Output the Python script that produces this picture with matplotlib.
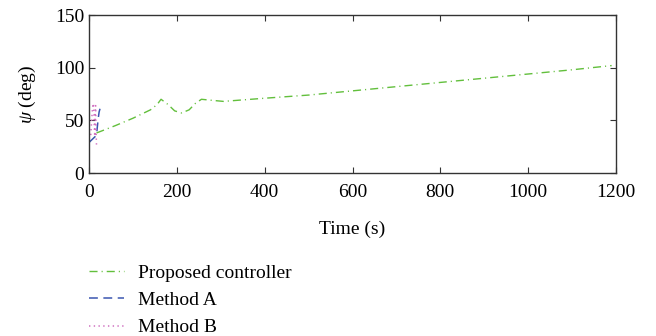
import matplotlib
matplotlib.use("Agg")
import matplotlib.pyplot as plt

plt.rcParams['font.family'] = ['Liberation Serif', 'DejaVu Serif']
plt.rcParams['mathtext.fontset'] = 'custom'
plt.rcParams['mathtext.it'] = 'Liberation Serif:italic'
plt.rcParams['mathtext.rm'] = 'Liberation Serif'

t_prop = [17, 60, 100, 140, 155, 164, 180, 195, 211, 228, 242, 256, 280, 306, 400, 500, 600, 700, 800, 900, 1000, 1100, 1190]
psi_prop = [38, 45, 52, 60, 65, 70, 65, 59, 57, 60, 66, 70, 69, 68, 71, 74, 78, 82, 86, 90, 94, 98, 102]

t_a = [0, 5, 10, 15, 17, 19, 21, 23, 25]
psi_a = [29, 31, 33, 35, 36, 44, 52, 58, 61]

t_b = [4, 6, 8, 10, 11, 12, 13, 14, 15, 16, 17]
psi_b = [36, 50, 62, 66, 58, 45, 35, 55, 64, 40, 27]

fig = plt.figure(figsize=(6.56, 3.36), dpi=100)
ax = fig.add_axes([0.1357, 0.4851, 0.8034, 0.4702])

ax.plot(t_prop, psi_prop, color='#62bf3c', linestyle=(0, (5.8, 2.9, 0.8, 2.9)), lw=1.0, label='Proposed controller')
ax.plot(t_a, psi_a, color='#3a56b0', linestyle=(0, (5.8, 3.6)), lw=1.1, label='Method A')
ax.plot(t_b, psi_b, color='#d070c0', linestyle=(0, (0.9, 2.2)), lw=1.1, label='Method B')

ax.set_xlim(0, 1200)
ax.set_ylim(0, 150)
ax.set_xticks([0, 200, 400, 600, 800, 1000, 1200])
ax.set_yticks([0, 50, 100, 150])
ax.tick_params(direction='in', labelsize=14, top=True, right=True, length=4, color='#333333')
ax.tick_params(axis='x', pad=8)
ax.set_xlabel('Time (s)', fontsize=14, labelpad=14)
ax.set_ylabel(r'$\psi$ (deg)', fontsize=14, labelpad=12)
for s in ax.spines.values():
    s.set_linewidth(1.0)
    s.set_color('#333333')

h, l = ax.get_legend_handles_labels()
fig.legend(h, l, loc='upper left', bbox_to_anchor=(0.1357, 0.214), frameon=False,
           fontsize=14, handlelength=1.8, labelspacing=0.5, borderpad=0,
           borderaxespad=0, handletextpad=0.7)

fig.savefig('out.png', dpi=100)
